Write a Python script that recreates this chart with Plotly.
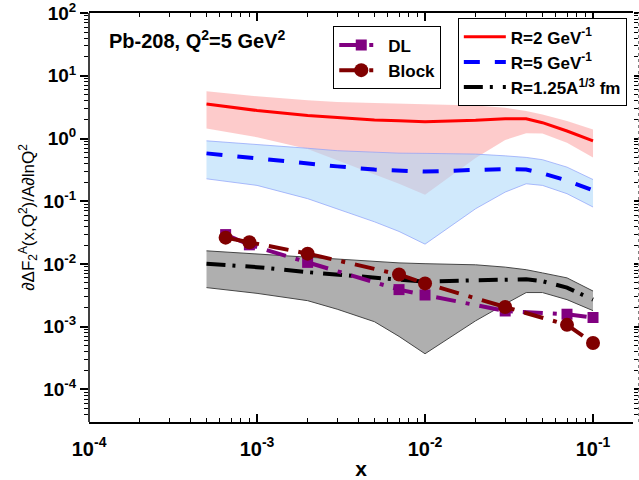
import plotly.graph_objects as go

# ---- data ----
x_curve = [5e-4, 1e-3, 2e-3, 3e-3, 5e-3, 7e-3, 1e-2, 2e-2, 3e-2, 4e-2, 5e-2, 7e-2, 1e-1]

r2_mid = [3.57, 2.8, 2.33, 2.14, 1.97, 1.92, 1.86, 1.95, 2.07, 2.07, 1.79, 1.32, 0.92]
r2_up = [5.67, 4.72, 4.08, 3.84, 3.7, 3.6, 3.53, 3.37, 3.09, 2.74, 2.42, 1.9, 1.39]
r2_lo = [1.44, 1.05, 0.68, 0.45, 0.26, 0.19, 0.127, 0.49, 0.95, 1.21, 1.2, 0.86, 0.5]

r5_mid = [0.58, 0.48, 0.39, 0.36, 0.32, 0.305, 0.297, 0.316, 0.327, 0.32, 0.28, 0.214, 0.149]
r5_up = [0.92, 0.81, 0.70, 0.64, 0.6, 0.585, 0.58, 0.565, 0.53, 0.5, 0.46, 0.35, 0.222]
r5_lo = [0.228, 0.179, 0.11, 0.076, 0.047, 0.033, 0.0207, 0.076, 0.14, 0.19, 0.179, 0.132, 0.081]

ra_mid = [0.0101, 0.0089, 0.0074, 0.0068, 0.0059, 0.0055, 0.0052, 0.0055, 0.0057, 0.0057, 0.0053, 0.0042, 0.0027]
ra_up = [0.0162, 0.0145, 0.0127, 0.012, 0.011, 0.0104, 0.0101, 0.0097, 0.0089, 0.0081, 0.0072, 0.006, 0.0037]
ra_lo = [0.0042, 0.0034, 0.0026, 0.0019, 0.0012, 0.0007, 0.00037, 0.00124, 0.0023, 0.0035, 0.0035, 0.0027, 0.0018]

x_pts = [6.5e-4, 9e-4, 2e-3, 7e-3, 1e-2, 3e-2, 7e-2, 1e-1]
dl_vals = [0.0294, 0.0202, 0.0106, 0.0039, 0.0032, 0.00178, 0.00158, 0.0014]
block_vals = [0.0263, 0.0222, 0.0146, 0.0068, 0.0049, 0.00206, 0.00107, 0.00055]

x_tick_exp = [-4, -3, -2, -1]
y_tick_exp = [-4, -3, -2, -1, 0, 1, 2]

FONT = "Liberation Sans, Arial, sans-serif"

fig = go.Figure()

def band(lo, up, fill, edge, edgew):
    fig.add_trace(go.Scatter(x=x_curve, y=lo, mode="lines",
                             line=dict(color=edge, width=edgew),
                             showlegend=False, hoverinfo="skip"))
    fig.add_trace(go.Scatter(x=x_curve, y=up, mode="lines", fill="tonexty",
                             fillcolor=fill, line=dict(color=edge, width=edgew),
                             showlegend=False, hoverinfo="skip"))

band(r2_lo, r2_up, "rgba(250,140,140,0.45)", "rgba(0,0,0,0)", 0)
band(r5_lo, r5_up, "rgba(172,216,250,0.56)", "rgba(140,160,250,0.7)", 1)
band(ra_lo, ra_up, "rgb(175,175,175)", "rgb(70,70,70)", 1)

fig.add_trace(go.Scatter(x=x_curve, y=r2_mid, mode="lines", name="R=2 GeV<sup>-1</sup>",
                         line=dict(color="#ff0000", width=3), legend="legend2"))
fig.add_trace(go.Scatter(x=x_curve, y=r5_mid, mode="lines", name="R=5 GeV<sup>-1</sup>",
                         line=dict(color="#0000ff", width=4, dash="16px,15px"),
                         legend="legend2"))
fig.add_trace(go.Scatter(x=x_curve, y=ra_mid, mode="lines", name="R=1.25A<sup>1/3</sup> fm",
                         line=dict(color="#000000", width=4, dash="19px,7px,3px,10px"),
                         legend="legend2"))

fig.add_trace(go.Scatter(x=x_pts, y=dl_vals, mode="lines+markers", name="DL",
                         line=dict(color="#800080", width=4, dash="20px,10px,4px,10px"),
                         marker=dict(symbol="square", size=11, color="#800080"),
                         legend="legend"))
fig.add_trace(go.Scatter(x=x_pts, y=block_vals, mode="lines+markers", name="Block",
                         line=dict(color="#800000", width=4, dash="20px,10px,4px,10px"),
                         marker=dict(symbol="circle", size=14, color="#800000"),
                         legend="legend"))

xminor = [m * 10.0 ** e for e in range(-4, 0) for m in range(2, 10)]
yminor = [m * 10.0 ** e for e in range(-5, 2) for m in range(2, 10)]

fig.update_layout(
    width=639, height=480,
    margin=dict(l=89, r=6, t=13, b=58, autoexpand=False),
    plot_bgcolor="white", paper_bgcolor="white",
    font=dict(family=FONT, color="black"),
    xaxis=dict(type="log", range=[-4.0005, -0.762], automargin=False,
               tickvals=[10.0 ** e for e in x_tick_exp],
               ticktext=["10<sup>%d</sup>" % e for e in x_tick_exp],
               ticks="inside", ticklen=8, tickwidth=1.5, tickcolor="black",
               minor=dict(tickvals=xminor, ticks="inside", ticklen=4, tickwidth=1.2, tickcolor="black"),
               showline=True, linewidth=1.5, linecolor="black", mirror="ticks",
               showgrid=False, zeroline=False, ticklabelstandoff=8,
               tickfont=dict(size=20, family=FONT, weight="bold"),
               title=dict(text="x", font=dict(size=21, family=FONT, weight="bold"), standoff=4)),
    yaxis=dict(type="log", range=[-4.52, 2.002], automargin=False,
               tickvals=[10.0 ** e for e in y_tick_exp],
               ticktext=["10<sup>%d</sup>" % e for e in y_tick_exp],
               ticks="outside", ticklen=8, tickwidth=1.5, tickcolor="black",
               minor=dict(tickvals=yminor, ticks="outside", ticklen=4, tickwidth=1.2, tickcolor="black"),
               showline=False, mirror="ticks", ticklabeloverflow="allow",
               showgrid=False, zeroline=False,
               tickfont=dict(size=19, family=FONT, weight="bold"),
               title=dict(text="\u2202\u0394F<sub>2</sub><sup>A</sup>(x,Q<sup>2</sup>)/A\u2202lnQ<sup>2</sup>",
                          font=dict(size=17, family=FONT), standoff=4)),
    legend=dict(x=0.449, y=0.967, xanchor="left", yanchor="top",
                bordercolor="black", borderwidth=1, bgcolor="white", traceorder="normal",
                font=dict(size=17, family=FONT, weight="bold"),
                tracegroupgap=0, itemwidth=44),
    legend2=dict(x=0.678, y=0.987, xanchor="left", yanchor="top",
                 bordercolor="black", borderwidth=1, bgcolor="white", traceorder="normal",
                 font=dict(size=17, family=FONT, weight="bold"),
                 tracegroupgap=0, itemwidth=42),
    annotations=[dict(text="Pb-208, Q<sup>2</sup>=5 GeV<sup>2</sup>", xref="paper", yref="paper",
                      x=0.033, y=0.935, xanchor="left", yanchor="middle", showarrow=False,
                      font=dict(size=20, family=FONT, weight="bold"))],
    shapes=[dict(type="line", xref="paper", yref="paper", x0=0, x1=0, y0=0, y1=1,
                 line=dict(color="black", width=1.5)),
            dict(type="line", xref="paper", yref="paper", x0=1.0101, x1=1.0101, y0=0, y1=1,
                 line=dict(color="gray", width=1, dash="dot"))],
)

fig.write_html("out.html")
